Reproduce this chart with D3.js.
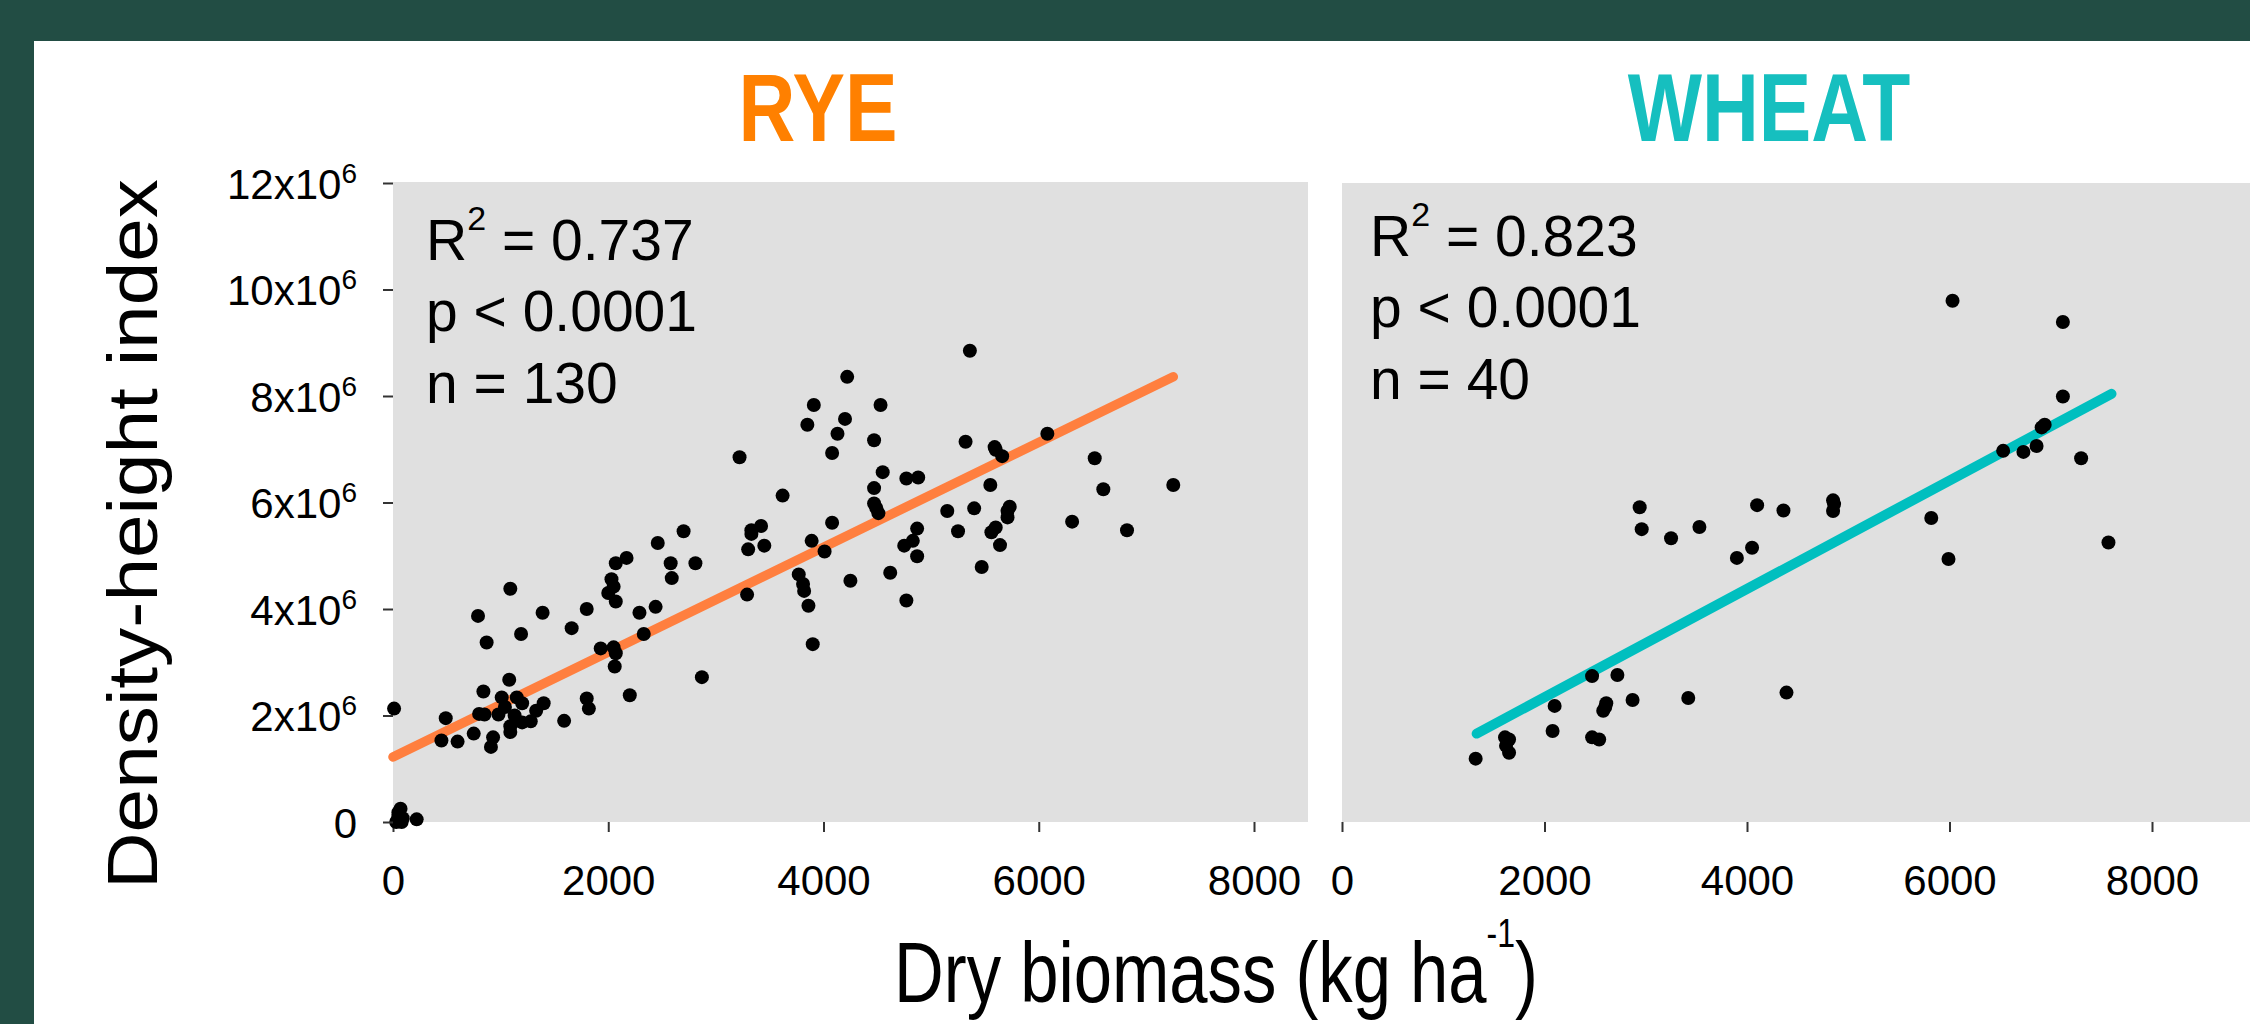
<!DOCTYPE html>
<html lang="en">
<head>
<meta charset="UTF-8">
<script src="https://d3js.org/d3.v7.min.js"></script>
<style>
  body { margin: 0; background: #fff; }
  svg text { font-family: "Liberation Sans", Arial, sans-serif; fill: #000; }
</style>
<title>Rye / Wheat</title>
</head>
<body>
<div id="chart"></div>
<script>
// rye: dry biomass (kg/ha) and density-height index (x10^6)
const ryeBiomass = [5360, 4220, 3910, 4530, 3850, 4200, 4130, 4470, 4080, 5320, 6080, 5590, 5660, 3220, 6520, 7250, 6600, 4550, 4770, 4880,
  4470, 5550, 3620, 4470, 4490, 4510, 5150, 5400, 5730, 5710, 6310, 6820, 4080, 4870, 4830, 4750, 4870, 5250, 5560, 5600,
  5640, 5470, 3890, 4010, 4620, 4250, 4770, 3770, 3820, 3860, 3900, 3420, 3330, 3450, 3300, 3290, 2700, 2460, 2810, 2580,
  2590, 2170, 2070, 2030, 2050, 2000, 2070, 2440, 2290, 2330, 1800, 1660, 1390, 1190, 1090, 790, 870, 1930, 2070, 2060,
  2870, 2200, 1800, 1820, 1590, 1400, 1330, 1280, 1080, 840, 1010, 1150, 1200, 800, 850, 980, 1130, 1090, 930, 910,
  490, 450, 600, 750, 10, 70, 50, 80, 220, 30, 1090, 1040, 1200, 3810, 2050, 50, 90, 5710, 3330, 5600];
const ryeIndex = [8.85, 8.36, 7.83, 7.83, 7.46, 7.57, 7.29, 7.17, 6.93, 7.14, 7.29, 7.04, 6.87, 6.85, 6.83, 6.33, 6.25, 6.57, 6.45, 6.47,
  6.27, 6.33, 6.13, 5.98, 5.90, 5.80, 5.84, 5.89, 5.92, 5.72, 5.64, 5.48, 5.62, 5.51, 5.28, 5.19, 4.99, 5.46, 5.44, 5.53,
  5.20, 4.79, 5.28, 5.08, 4.68, 4.53, 4.16, 4.65, 4.34, 4.06, 3.34, 5.56, 5.41, 5.19, 5.12, 4.27, 5.46, 5.24, 4.86, 4.86,
  4.58, 4.96, 4.86, 4.56, 4.42, 4.30, 4.14, 4.04, 3.93, 3.53, 4.00, 3.64, 3.93, 3.53, 4.38, 3.87, 3.37, 3.26, 3.17, 2.92,
  2.72, 2.38, 2.32, 2.13, 1.90, 2.23, 2.09, 1.89, 2.67, 2.45, 2.34, 2.34, 2.23, 2.03, 2.02, 2.02, 2.00, 1.69, 1.59, 1.41,
  1.95, 1.53, 1.51, 1.66, 2.13, 0.25, 0.11, 0.00, 0.05, 0.00, 1.80, 2.16, 1.87, 4.47, 3.28, 0.18, 0.07, 5.84, 5.48, 6.99];

// wheat
const wheatBiomass = [6030, 7120, 7120, 6910, 6860, 6730, 6530, 7300, 7570, 5820, 5990, 4850, 4850, 4360, 4100, 4050, 3900, 3530, 3250, 2940,
  2960, 4390, 3420, 2870, 2720, 2470, 2610, 2580, 2100, 2080, 2470, 2540, 1650, 1620, 1650, 1610, 1320, 6940, 4860, 2600];
const wheatIndex = [9.79, 9.39, 7.99, 7.41, 7.06, 6.95, 6.97, 6.83, 5.25, 5.71, 4.94, 6.04, 5.84, 5.85, 5.95, 5.15, 4.96, 5.54, 5.33, 5.91,
  5.50, 2.43, 2.33, 2.29, 2.76, 2.74, 2.23, 2.09, 2.18, 1.71, 1.59, 1.55, 1.55, 1.43, 1.30, 1.59, 1.19, 7.46, 5.97, 2.16];

// regression lines (end points)
const ryeFitX = [0, 7250];
const ryeFitY = [1.22, 8.36];
const wheatFitX = [1330, 7600];
const wheatFitY = [1.66, 8.04];

const xTicks = [0, 2000, 4000, 6000, 8000];
const yTicks = [0, 2, 4, 6, 8, 10, 12];
const panelTitles = ["RYE", "WHEAT"];
const statLines = [["0.737", "p < 0.0001", "n = 130"], ["0.823", "p < 0.0001", "n = 40"]];

//Chart
const width = 2250;
const height = 1024;
const svg = d3.select('#chart').append('svg')
  .attr('width', width)
  .attr('height', height);

// dark frame
svg.append('rect').attr('x', 0).attr('y', 0).attr('width', width).attr('height', 41).attr('fill', '#224d44');
svg.append('rect').attr('x', 0).attr('y', 0).attr('width', 34).attr('height', height).attr('fill', '#224d44');

const yScale = d3.scaleLinear().domain([0, 12]).range([822, 183]);

const panels = [
  { x: d3.scaleLinear().domain([0, 8000]).range([393, 1254]), left: 393, right: 1308, top: 182,
    bx: ryeBiomass, by: ryeIndex, fx: ryeFitX, fy: ryeFitY, color: '#ff8000', line: '#ff7f3f', lw: 9.5 },
  { x: d3.scaleLinear().domain([0, 8000]).range([1342, 2152]), left: 1342, right: 2250, top: 183,
    bx: wheatBiomass, by: wheatIndex, fx: wheatFitX, fy: wheatFitY, color: '#16bfbf', line: '#00bfbf', lw: 10 }
];

panels.forEach((p, i) => {
  const g = svg.append('g');
  g.append('rect')
    .attr('x', p.left).attr('y', p.top)
    .attr('width', p.right - p.left).attr('height', 822 - p.top)
    .attr('fill', '#e0e0e0');

  //-x axis
  const xAxis = d3.axisBottom(p.x).tickValues(xTicks).tickSize(10).tickPadding(33).tickFormat(d3.format('d'));
  const gx = g.append('g').attr('transform', 'translate(0,822)').call(xAxis);
  gx.select('.domain').remove();
  gx.selectAll('line').attr('stroke', '#333').attr('stroke-width', 2);
  gx.selectAll('text').style('font-size', '42px');

  //-regression line
  const pts = p.fx.map((v, k) => [v, p.fy[k]]);
  g.append('path')
    .attr('d', d3.line().x(d => p.x(d[0])).y(d => yScale(d[1]))(pts))
    .attr('stroke', p.line).attr('stroke-width', p.lw)
    .attr('stroke-linecap', 'round').attr('fill', 'none');

  //-points
  g.selectAll('circle.pt')
    .data(p.bx.map((v, k) => [v, p.by[k]]))
    .enter().append('circle')
    .attr('class', 'pt')
    .attr('cx', d => p.x(d[0]))
    .attr('cy', d => yScale(d[1]))
    .attr('r', 7)
    .attr('fill', '#000');

  //-stats
  const ax = p.left + (i === 0 ? 33 : 28);
  const base = i === 0 ? 260 : 256;
  const t0 = g.append('text').attr('x', ax).attr('y', base).style('font-size', '57px');
  t0.append('tspan').text('R');
  t0.append('tspan').attr('dy', -30).style('font-size', '34px').text('2');
  t0.append('tspan').attr('dy', 30).text(' = ' + statLines[i][0]);
  g.append('text').attr('x', ax).attr('y', base + 71).style('font-size', '57px').text(statLines[i][1]);
  g.append('text').attr('x', ax).attr('y', base + 143).style('font-size', '57px').text(statLines[i][2]);

  //-panel title (narrow bold)
  const cx = i === 0 ? 818 : 1769;
  g.append('g').attr('transform', `translate(${cx},141) scale(0.82,1)`)
    .append('text')
    .attr('text-anchor', 'middle')
    .style('font-size', '96px').style('font-weight', 'bold')
    .style('fill', p.color)
    .text(panelTitles[i]);
});

//-y axis
const yAxis = d3.axisLeft(yScale).tickValues(yTicks).tickSize(10).tickPadding(26).tickFormat(() => '');
const gy = svg.append('g').attr('transform', 'translate(393,0)').call(yAxis);
gy.select('.domain').remove();
gy.selectAll('line').attr('stroke', '#333').attr('stroke-width', 2);
gy.selectAll('text')
  .attr('dy', '0.36em')
  .style('font-size', '42px')
  .each(function (d) {
    const t = d3.select(this);
    if (d === 0) { t.text('0'); return; }
    t.append('tspan').text(d + 'x10');
    t.append('tspan').attr('dy', -16).style('font-size', '28px').text('6');
  });

//-axis titles
svg.append('g').attr('transform', 'translate(157,534) scale(0.83,1) rotate(-90)')
  .append('text')
  .attr('text-anchor', 'middle')
  .attr('textLength', 710)
  .attr('lengthAdjust', 'spacingAndGlyphs')
  .style('font-size', '84px')
  .text('Density-height index');

const xt = svg.append('g').attr('transform', 'translate(1216,1002) scale(0.8,1)')
  .append('text')
  .attr('text-anchor', 'middle')
  .style('font-size', '86px');
xt.append('tspan').text('Dry biomass (kg ha');
xt.append('tspan').attr('dy', -55).style('font-size', '40px').text('-1');
xt.append('tspan').attr('dy', 55).text(')');
</script>
</body>
</html>
